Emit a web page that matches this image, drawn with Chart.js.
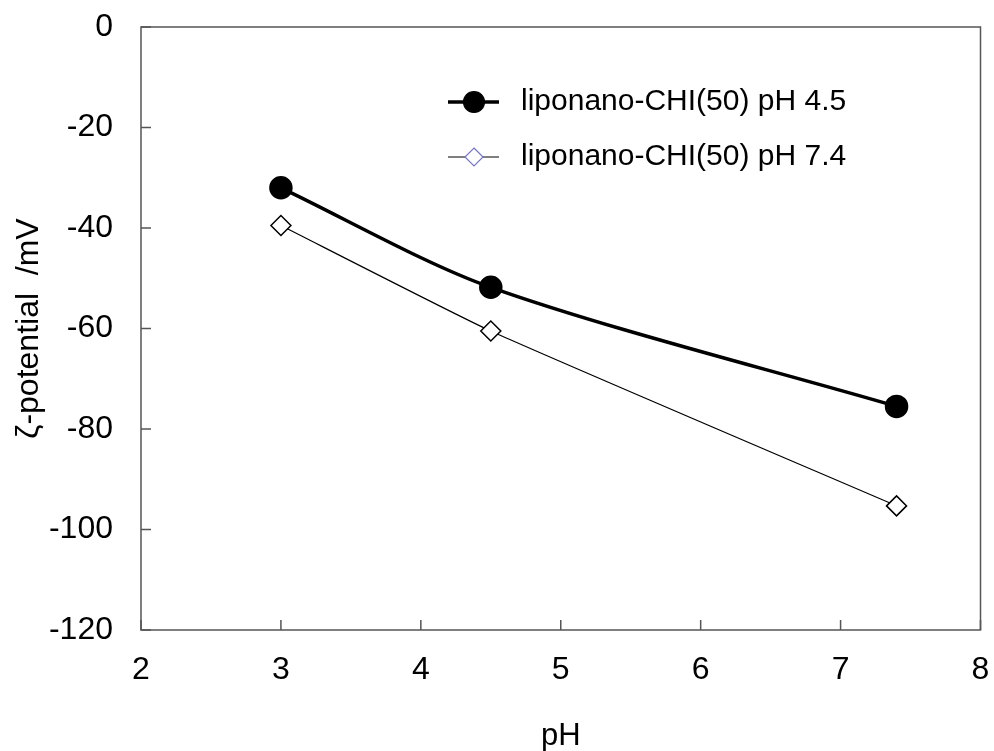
<!DOCTYPE html>
<html>
<head>
	<meta charset="utf-8">
	<title>zeta potential</title>
	<script src="https://cdn.jsdelivr.net/npm/chart.js"></script>
	<style>
		body { margin: 0; background: #fff; }
		#wrap { width: 994px; height: 751px; }
	</style>
</head>
<body>
	<div id="wrap"><canvas id="zetaChart"></canvas></div>
	<script>
		// valores
		var phValues = [3, 4.5, 7.4];
		var zetaPh45 = [-32, -51.8, -75.5];
		var zetaPh74 = [-39.5, -60.5, -95.3];
		var seriesNames = ['liponano-CHI(50) pH 4.5', 'liponano-CHI(50) pH 7.4'];
		var xTicks = [2, 3, 4, 5, 6, 7, 8];
		var yTicks = [0, -20, -40, -60, -80, -100, -120];

		var font = 'Liberation Sans, Arial, sans-serif';
		var frameColor = '#555555';

		// moldura + ticks para dentro
		var frameTicks = {
			id: 'frameTicks',
			afterDatasetsDraw: function (chart) {
				var c = chart.ctx, a = chart.chartArea;
				var xs = chart.scales.x, ys = chart.scales.y;
				c.save();
				c.strokeStyle = frameColor;
				c.lineWidth = 1.5;
				c.strokeRect(a.left, a.top, a.right - a.left, a.bottom - a.top);
				c.beginPath();
				xTicks.forEach(function (v) {
					var px = xs.getPixelForValue(v);
					c.moveTo(px, a.bottom);
					c.lineTo(px, a.bottom - 10);
				});
				yTicks.forEach(function (v) {
					var py = ys.getPixelForValue(v);
					c.moveTo(a.left, py);
					c.lineTo(a.left + 10, py);
				});
				c.stroke();
				c.restore();
			}
		};

		// legenda com linha atravessando o marcador
		var lineLegend = {
			id: 'lineLegend',
			afterDraw: function (chart) {
				var c = chart.ctx;
				var rows = [
					{ y: 102, lw: 3.5, color: '#000', marker: 'circle', fill: '#000', stroke: '#000' },
					{ y: 157, lw: 1.2, color: '#000', marker: 'diamond', fill: '#fff', stroke: '#7474c4' }
				];
				c.save();
				rows.forEach(function (r, i) {
					c.strokeStyle = r.color;
					c.lineWidth = r.lw;
					c.beginPath();
					c.moveTo(448, r.y);
					c.lineTo(499, r.y);
					c.stroke();
					c.beginPath();
					if (r.marker === 'circle') {
						c.arc(474, r.y, 10.5, 0, Math.PI * 2);
					} else {
						c.moveTo(474, r.y - 9);
						c.lineTo(483, r.y);
						c.lineTo(474, r.y + 9);
						c.lineTo(465, r.y);
						c.closePath();
					}
					c.fillStyle = r.fill;
					c.fill();
					c.strokeStyle = r.stroke;
					c.lineWidth = 1.2;
					c.stroke();
					c.fillStyle = '#000';
					c.font = '30px ' + font;
					c.textBaseline = 'middle';
					c.fillText(seriesNames[i], 521, r.y);
				});
				c.restore();
			}
		};

		var ctx = document.getElementById('zetaChart').getContext('2d');
		var chart = new Chart(ctx, {
			type: 'line',
			data: {
				datasets: [{
					label: seriesNames[0],
					data: phValues.map(function (x, i) { return { x: x, y: zetaPh45[i] }; }),
					borderColor: '#000',
					borderWidth: 3.5,
					tension: 0.3,
					pointStyle: 'circle',
					pointRadius: 10,
					pointBackgroundColor: '#000',
					pointBorderColor: '#000'
				},
				{
					label: seriesNames[1],
					data: phValues.map(function (x, i) { return { x: x, y: zetaPh74[i] }; }),
					borderColor: '#000',
					borderWidth: 1.2,
					tension: 0.15,
					pointStyle: 'rectRot',
					pointRadius: 10,
					pointBorderWidth: 1.5,
					pointBackgroundColor: '#fff',
					pointBorderColor: '#000'
				}]
			},
			options: {
				responsive: true,
				maintainAspectRatio: false,
				animation: false,
				layout: { padding: { top: 27, right: 10, left: 0, bottom: 0 } },
				plugins: {
					legend: { display: false },
					tooltip: { enabled: false }
				},
				scales: {
					x: {
						type: 'linear',
						min: 2,
						max: 8,
						afterBuildTicks: function (s) { s.ticks = xTicks.map(function (v) { return { value: v }; }); },
						afterFit: function (s) { s.height = 121; s.paddingLeft = 0; s.paddingRight = 0; },
						grid: { display: false },
						border: { display: false },
						ticks: { color: '#000', padding: 13, font: { size: 32, family: font } },
						title: { display: true, text: 'pH', color: '#000', padding: { top: 0, bottom: -4 }, font: { size: 31, family: font } }
					},
					y: {
						type: 'linear',
						min: -120,
						max: 0,
						afterBuildTicks: function (s) { s.ticks = yTicks.map(function (v) { return { value: v }; }); },
						afterFit: function (s) { s.width = 141; s.paddingTop = 0; s.paddingBottom = 0; },
						grid: { display: false },
						border: { display: false },
						ticks: { color: '#000', padding: 20, font: { size: 32, family: font } },
						title: { display: true, text: 'ζ-potential  /mV', color: '#000', padding: 10, font: { size: 32, family: font } }
					}
				}
			},
			plugins: [frameTicks, lineLegend]
		});
	</script>
</body>
</html>
